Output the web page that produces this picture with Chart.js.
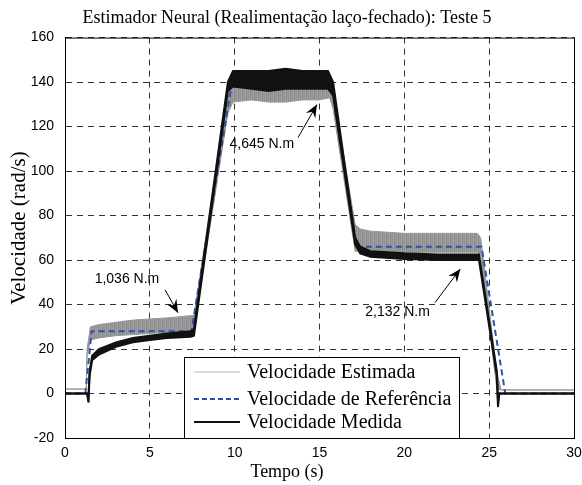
<!DOCTYPE html>
<html>
<head>
<meta charset="utf-8">
<script src="https://cdn.jsdelivr.net/npm/chart.js@4/dist/chart.umd.min.js"></script>
<style>
  html, body { margin: 0; padding: 0; background: #fff; }
  #wrap { width: 582px; height: 485px; }
</style>
</head>
<body>
<div id="wrap"><canvas id="velChart" width="582" height="485"></canvas></div>
<script>
// tempo (s) e envelopes das curvas
const estT  = [0, 1.25, 1.3, 1.5, 2, 3, 4, 5, 6, 7.4, 7.6, 9.6, 9.9, 11, 12, 13, 14, 15, 15.6, 15.8, 17.1, 17.4, 18, 20, 22, 24.3, 24.5, 25.45, 25.7, 30];
const estUp = [2, 2, 20, 30, 31, 32, 33, 33.5, 34, 35, 35, 136, 140, 140, 140, 140, 140, 140, 140, 136, 76, 74, 73, 72, 72, 72, 70, 10, 1.6, 1.6];
const estLo = [2, 2, 17, 24, 25, 26, 26.5, 27, 27.5, 28, 29, 126, 131, 132, 131, 131, 132, 132, 133, 128, 64, 64, 63.5, 63.5, 63.5, 63.5, 62, 2, 1.6, 1.6];

const refT = [0, 1.2, 1.57, 7.45, 9.85, 15.7, 17.2, 24.55, 25.95, 30];
const refV = [0, 0, 28, 28, 140, 140, 66, 66, 0, 0];

const medT  = [0, 1.3, 1.38, 1.45, 1.6, 2, 3, 4, 5, 6, 7.4, 7.6, 9.6, 9.9, 11, 12, 13, 14, 15, 15.5, 15.8, 17.1, 17.4, 18, 20, 22, 24.4, 25.45, 25.52, 25.6, 30];
const medUp = [0, 0, -2, 10, 17, 20, 23, 25, 26, 27, 28, 29, 140, 145, 145, 145, 146, 145, 145, 145, 140, 70, 66, 64, 63, 62.5, 62.5, 10, -3, 0, 0];
const medLo = [0, 0, -4, 8, 15, 17.5, 21, 23, 24, 25, 25.5, 26, 136, 138, 137, 136, 137, 137, 137, 137, 134, 67, 63, 61.5, 60.5, 60, 60, 8, -6, 0, 0];

const xTicks = [0, 5, 10, 15, 20, 25, 30];
const yTicks = [-20, 0, 20, 40, 60, 80, 100, 120, 140, 160];

const seriesNames = ['Velocidade Estimada', 'Velocidade de Referência', 'Velocidade Medida'];

// anotacoes de torque: texto (t, v) e seta (de -> para)
const notes = [
  { text: '1,036 N.m', tx: 3.65, ty: 51.6, x0: 5.9, y0: 46.6, x1: 6.66, y1: 36.3 },
  { text: '4,645 N.m', tx: 11.6, ty: 112.3, x0: 13.73, y0: 115, x1: 14.85, y1: 129.9 },
  { text: '2,132 N.m', tx: 19.6, ty: 36.7, x0: 21.8, y0: 40.8, x1: 23.3, y1: 56 }
];

const GRAY = '#999999';
const BLUE = '#2f4fb0';
const BLACK = '#111111';
const SERIF = '"Liberation Serif", "Times New Roman", serif';
const SANS = '"Liberation Sans", Arial, sans-serif';

function pts(t, v) { return t.map((x, i) => ({ x: x, y: v[i] })); }

// faixa cinza com listras verticais (aspecto do ruido)
function stripes() {
  const p = document.createElement('canvas');
  p.width = 4; p.height = 4;
  const g = p.getContext('2d');
  ['#929292', '#a3a3a3', '#888888', '#9b9b9b'].forEach((c, i) => { g.fillStyle = c; g.fillRect(i, 0, 1, 4); });
  return g.createPattern(p, 'repeat');
}

const extras = {
  id: 'extras',
  afterDatasetsDraw(chart) {
    const c = chart.ctx, a = chart.chartArea;
    const xs = chart.scales.x, ys = chart.scales.y;
    c.save();
    // annotations
    c.fillStyle = '#000';
    c.strokeStyle = '#000';
    c.font = '14px ' + SANS;
    c.textAlign = 'center';
    c.textBaseline = 'middle';
    notes.forEach(n => {
      c.fillText(n.text, xs.getPixelForValue(n.tx), ys.getPixelForValue(n.ty));
      const px0 = xs.getPixelForValue(n.x0), py0 = ys.getPixelForValue(n.y0);
      const px1 = xs.getPixelForValue(n.x1), py1 = ys.getPixelForValue(n.y1);
      const ang = Math.atan2(py1 - py0, px1 - px0);
      c.lineWidth = 1;
      c.beginPath(); c.moveTo(px0, py0); c.lineTo(px1, py1); c.stroke();
      const L = 14, W = 0.4;
      c.beginPath();
      c.moveTo(px1, py1);
      c.lineTo(px1 - L * Math.cos(ang - W), py1 - L * Math.sin(ang - W));
      c.lineTo(px1 - L * 0.6 * Math.cos(ang), py1 - L * 0.6 * Math.sin(ang));
      c.lineTo(px1 - L * Math.cos(ang + W), py1 - L * Math.sin(ang + W));
      c.closePath(); c.fill();
    });
    // legend box
    const lx = a.left + 119, lw = 275, lh = 81, ly = a.bottom - lh;
    c.fillStyle = '#fff';
    c.fillRect(lx, ly, lw, lh);
    c.strokeStyle = '#000'; c.lineWidth = 1;
    c.strokeRect(lx + 0.5, ly + 0.5, lw, lh);
    const rows = [
      { col: '#b8b8b8', w: 1, dash: [], dy: 15 },
      { col: BLUE, w: 2, dash: [5, 3], dy: 42 },
      { col: BLACK, w: 2, dash: [], dy: 65 }
    ];
    c.font = '20px ' + SERIF;
    c.textAlign = 'left';
    rows.forEach((r, i) => {
      const yy = ly + r.dy;
      c.strokeStyle = r.col; c.lineWidth = r.w; c.setLineDash(r.dash);
      c.beginPath(); c.moveTo(lx + 10, yy); c.lineTo(lx + 56, yy); c.stroke();
      c.setLineDash([]);
      c.fillStyle = '#000';
      c.fillText(seriesNames[i], lx + 63, yy + 1);
    });
    // frame
    c.strokeStyle = '#000'; c.lineWidth = 1;
    c.strokeRect(a.left + 0.5, a.top + 0.5, a.right - a.left, a.bottom - a.top);
    // axis titles
    c.fillStyle = '#000';
    c.textAlign = 'center';
    c.font = '18px ' + SERIF;
    c.fillText('Tempo (s)', 287, 472);
    c.font = '21px ' + SERIF;
    c.translate(19, 228);
    c.rotate(-Math.PI / 2);
    c.fillText('Velocidade (rad/s)', 0, 0);
    c.restore();
  }
};

const ctx = document.getElementById('velChart').getContext('2d');
const GRAYFILL = stripes();
const myChart = new Chart(ctx, {
  type: 'line',
  data: {
    datasets: [
      { label: seriesNames[0], data: pts(estT, estUp), borderColor: GRAY, backgroundColor: GRAYFILL,
        borderWidth: 1, pointRadius: 0, fill: '+1', order: 3, tension: 0 },
      { label: 'est-lo', data: pts(estT, estLo), borderColor: GRAY, borderWidth: 1,
        pointRadius: 0, fill: false, order: 3, tension: 0 },
      { label: seriesNames[1], data: pts(refT, refV), borderColor: BLUE, borderWidth: 2,
        borderDash: [6, 4], pointRadius: 0, fill: false, order: 2, tension: 0 },
      { label: seriesNames[2], data: pts(medT, medUp), borderColor: BLACK, backgroundColor: BLACK,
        borderWidth: 2, pointRadius: 0, fill: '+1', order: 1, tension: 0 },
      { label: 'med-lo', data: pts(medT, medLo), borderColor: BLACK, borderWidth: 2,
        pointRadius: 0, fill: false, order: 1, tension: 0 }
    ]
  },
  options: {
    responsive: false,
    animation: false,
    layout: { padding: { left: 0, right: 8, top: 0, bottom: 0 } },
    plugins: {
      legend: { display: false },
      tooltip: { enabled: false },
      title: {
        display: true,
        text: 'Estimador Neural (Realimentação laço-fechado): Teste 5',
        color: '#000',
        font: { family: SERIF, size: 18, weight: 'normal' },
        padding: { top: 7, bottom: 9 }
      }
    },
    scales: {
      x: {
        type: 'linear', min: 0, max: 30,
        afterBuildTicks: s => { s.ticks = xTicks.map(v => ({ value: v })); },
        afterFit: s => { s.height = 47; s.paddingLeft = 0; s.paddingRight = 0; },
        grid: { color: '#333', lineWidth: 1, drawTicks: false },
        border: { display: true, color: '#000', width: 1, dash: [6, 5] },
        ticks: { color: '#000', padding: 7, font: { family: SANS, size: 14 } },
        title: { display: false }
      },
      y: {
        type: 'linear', min: -20, max: 160,
        afterBuildTicks: s => { s.ticks = yTicks.map(v => ({ value: v })); },
        afterFit: s => { s.width = 65; },
        grid: { color: '#333', lineWidth: 1, drawTicks: false },
        border: { display: true, color: '#000', width: 1, dash: [6, 5] },
        ticks: { color: '#000', padding: 11, font: { family: SANS, size: 14 } },
        title: { display: false }
      }
    }
  },
  plugins: [extras]
});
</script>
</body>
</html>
